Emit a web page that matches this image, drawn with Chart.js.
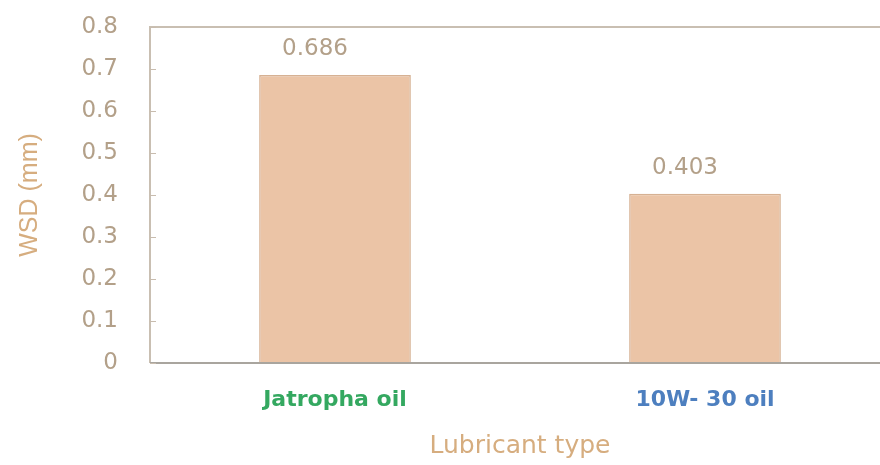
<!DOCTYPE html>
<html>
<head>
<meta charset="utf-8">
<script src="https://cdn.jsdelivr.net/npm/chart.js@4"></script>
<style>
  html, body { margin: 0; padding: 0; background: #fff; overflow: hidden; }
  #wrap { width: 890px; height: 465px; }
</style>
</head>
<body>
<div id="wrap"><canvas id="grafico"></canvas></div>
<script>
const tipos = ['Jatropha oil', '10W- 30 oil'];
const wsd = [0.686, 0.403];
const corTipos = ['#34a860', '#4d7fbf'];
const yTicks = [0, 0.1, 0.2, 0.3, 0.4, 0.5, 0.6, 0.7, 0.8];

// moldura, tracinhos internos e rótulos dos valores
const extras = {
  id: 'extras',
  afterDatasetsDraw(chart) {
    const { ctx, chartArea: a, scales: { y } } = chart;
    ctx.save();
    ctx.strokeStyle = '#c9bfb2';
    ctx.lineWidth = 2;
    ctx.beginPath();
    ctx.moveTo(a.left, a.bottom);
    ctx.lineTo(a.left, a.top);
    ctx.lineTo(a.right, a.top);
    ctx.stroke();
    ctx.strokeStyle = '#a9a59e';
    ctx.beginPath();
    ctx.moveTo(a.left, a.bottom);
    ctx.lineTo(a.right, a.bottom);
    ctx.stroke();

    ctx.strokeStyle = '#c8bcae';
    ctx.lineWidth = 1;
    yTicks.forEach(v => {
      const py = Math.round(y.getPixelForValue(v)) + 0.5;
      ctx.beginPath();
      ctx.moveTo(a.left, py);
      ctx.lineTo(a.left + 6, py);
      ctx.stroke();
    });

    ctx.fillStyle = '#b3a089';
    ctx.font = '23px "DejaVu Sans", sans-serif';
    ctx.textAlign = 'center';
    ctx.textBaseline = 'bottom';
    chart.getDatasetMeta(0).data.forEach((bar, i) => {
      ctx.fillText(wsd[i].toFixed(3), bar.x - 20, bar.y - 14);
    });
    ctx.restore();
  }
};

const chart = new Chart(document.getElementById('grafico').getContext('2d'), {
  type: 'bar',
  data: {
    labels: tipos,
    datasets: [{
      label: 'WSD',
      data: wsd,
      backgroundColor: '#ebc4a6',
      borderColor: '#d6b193',
      borderWidth: 1.5,
      borderSkipped: 'bottom',
      barPercentage: 0.41,
      categoryPercentage: 1
    }]
  },
  options: {
    responsive: true,
    maintainAspectRatio: false,
    animation: false,
    layout: { padding: { top: 27, left: 0, right: 0, bottom: 0 } },
    scales: {
      y: {
        min: 0,
        max: 0.8,
        afterBuildTicks: s => { s.ticks = yTicks.map(v => ({ value: v })); },
        afterFit: s => { s.width = 150; s.paddingTop = 0; s.paddingBottom = 0; },
        grid: { display: false, drawTicks: false },
        border: { display: false },
        ticks: {
          color: '#b3a089',
          padding: 32,
          font: { family: '"DejaVu Sans", sans-serif', size: 23 },
          callback: v => v === 0 ? '0' : v.toFixed(1)
        },
        title: {
          display: true,
          text: 'WSD (mm)',
          color: '#d6ad7f',
          padding: { top: 15, bottom: 0 },
          font: { family: '"Liberation Sans", Arial, sans-serif', size: 25 }
        }
      },
      x: {
        afterFit: s => { s.height = 102; s.paddingLeft = 0; s.paddingRight = 0; },
        grid: { display: false, drawTicks: false },
        border: { display: false },
        ticks: {
          color: ctx => corTipos[ctx.index],
          padding: 24,
          font: { family: '"DejaVu Sans", sans-serif', size: 22, weight: 'bold' }
        },
        title: {
          display: true,
          text: 'Lubricant type',
          color: '#d6ad7f',
          padding: { top: 16 },
          font: { family: '"DejaVu Sans", sans-serif', size: 25 }
        }
      }
    },
    plugins: {
      legend: { display: false },
      tooltip: { enabled: false }
    }
  },
  plugins: [extras]
});
</script>
</body>
</html>
